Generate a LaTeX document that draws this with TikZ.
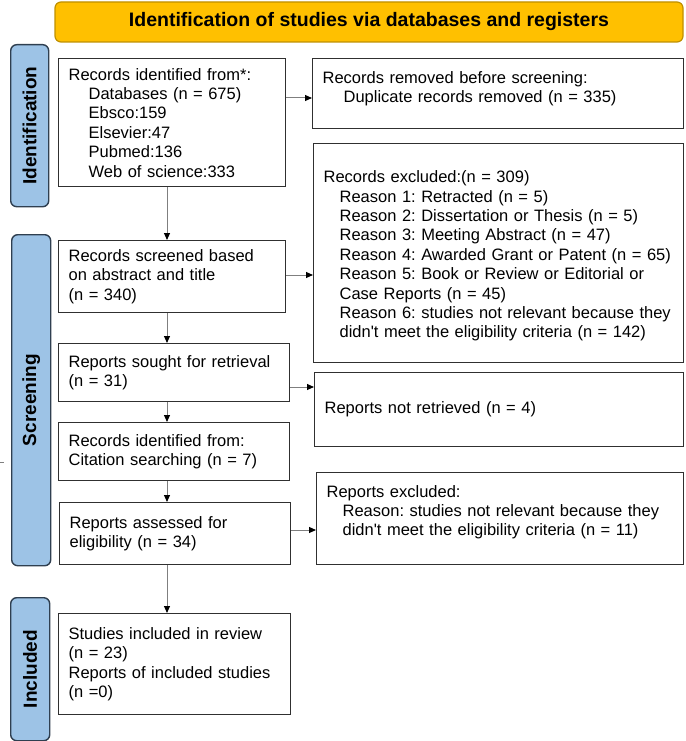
\documentclass[tikz,border=0pt]{standalone}
\usepackage{fontspec}
\setmainfont{Liberation Sans}[Ligatures=TeXOff]
\usetikzlibrary{arrows.meta,calc}
\definecolor{titlefill}{HTML}{FFC000}
\definecolor{titledraw}{HTML}{BF9000}
\definecolor{sidefill}{HTML}{9DC3E6}
\definecolor{sidedraw}{HTML}{2F3F50}
\definecolor{boxdraw}{HTML}{303030}
\definecolor{linegray}{HTML}{7F7F7F}
\tikzset{
  x=1pt, y=-1pt,
  bodytext/.style={font=\fontsize{16.5}{19.4}\selectfont\frenchspacing},
  flowbox/.style={draw=boxdraw, line width=1.3pt, fill=white, bodytext, align=left,
    inner xsep=10pt, inner ysep=0pt, anchor=north west},
  sidebar/.style={draw=sidedraw, fill=sidefill, line width=1.4pt, rounded corners=6pt, anchor=north west, inner sep=0pt},
  sidelabel/.style={rotate=90, font=\fontsize{19}{22}\selectfont\bfseries},
  arr/.style={draw=linegray, line width=1pt, -{Triangle[length=7pt,width=6pt,color=black]}},
}
\newcommand{\ind}[1]{\hspace*{#1pt}}
\begin{document}
\begin{tikzpicture}
\useasboundingbox (0,0) rectangle (685,741);
% title
\node[draw=titledraw, fill=titlefill, line width=1.2pt, rounded corners=6pt,
  minimum width=628pt, minimum height=40pt, inner sep=0pt,
  font=\fontsize{19.5}{22}\selectfont\bfseries] (title) at (369,22)
  {Identification of studies via databases and registers};
% side bars
\node[sidebar, minimum width=38pt, minimum height=162pt] (sid) at (10,44) {};
\node[sidelabel] (sidl) at (sid.center) {Identification};
\node[sidebar, minimum width=39pt, minimum height=331pt] (sscr) at (11,234) {};
\node[sidelabel] (sscrl) at (sscr.center) {Screening};
\node[sidebar, minimum width=39pt, minimum height=143pt] (sinc) at (10,597) {};
\node[sidelabel] (sincl) at (sinc.center) {Included};
% boxes
\node[flowbox, text width=207pt, minimum height=128pt] (A) at (58,58)
 {Records identified from*:\\
  \ind{20}Databases (n = 675)\\
  \ind{20}Ebsco:159\\
  \ind{20}Elsevier:47\\
  \ind{20}Pubmed:136\\
  \ind{20}Web of science:333};
\node[flowbox, text width=351pt, minimum height=70pt, text depth=33pt] (B) at (312,58)
 {Records removed before screening:\\
  \ind{21}Duplicate records removed (n = 335)};
\node[flowbox, text width=207pt, minimum height=72pt] (C) at (58,240)
 {Records screened based\\ on abstract and title\\ (n = 340)};
\node[flowbox, text width=350pt, minimum height=219pt, text depth=153pt] (D) at (313,143)
 {Records excluded:(n = 309)\\
  \ind{16}Reason 1: Retracted (n = 5)\\
  \ind{16}Reason 2: Dissertation or Thesis (n = 5)\\
  \ind{16}Reason 3: Meeting Abstract (n = 47)\\
  \ind{16}Reason 4: Awarded Grant or Patent (n = 65)\\
  \ind{16}Reason 5: Book or Review or Editorial or\\
  \ind{16}Case Reports (n = 45)\\
  \ind{16}Reason 6: studies not relevant because they\\
  \ind{16}didn't meet the eligibility criteria (n = 142)};
\node[flowbox, text width=211pt, minimum height=58pt] (E) at (58,343)
 {Reports sought for retrieval\\ (n = 31)};
\node[flowbox, text width=349pt, minimum height=74pt] (F) at (314,372)
 {Reports not retrieved (n = 4)};
\node[flowbox, text width=211pt, minimum height=58pt] (G) at (58,422)
 {Records identified from:\\ Citation searching (n = 7)};
\node[flowbox, text width=211pt, minimum height=62pt] (H) at (59,502)
 {Reports assessed for\\ eligibility (n = 34)};
\node[flowbox, text width=347pt, minimum height=92pt, text depth=55pt] (I) at (316,472)
 {Reports excluded:\\
  \ind{16}Reason: studies not relevant because they\\
  \ind{16}didn't meet the eligibility criteria (n = 11)};
\node[flowbox, text width=212pt, minimum height=101pt] (J) at (58,613)
 {Studies included in review\\ (n = 23)\\ Reports of included studies\\ (n =0)};
% connector helpers
\coordinate (colx) at (167,0);
\coordinate (yab) at (0,98);
\coordinate (ycd) at (0,275);
\coordinate (yef) at (0,387);
\coordinate (yhi) at (0,530);
% vertical arrows
\draw[arr] (A.south -| colx) -- (C.north -| colx);
\draw[arr] (C.south -| colx) -- (E.north -| colx);
\draw[arr] (E.south -| colx) -- (G.north -| colx);
\draw[arr] (G.south -| colx) -- (H.north -| colx);
\draw[arr] (H.south -| colx) -- (J.north -| colx);
% horizontal arrows
\draw[arr] (A.east |- yab) -- (B.west |- yab);
\draw[arr] (C.east |- ycd) -- (D.west |- ycd);
\draw[arr] (E.east |- yef) -- (F.west |- yef);
\draw[arr] (H.east |- yhi) -- (I.west |- yhi);
% stray mark
\coordinate (m1) at (0,462);
\coordinate (m2) at (4,462);
\draw[linegray, line width=0.8pt] (m1) -- (m2);
\end{tikzpicture}
\end{document}
